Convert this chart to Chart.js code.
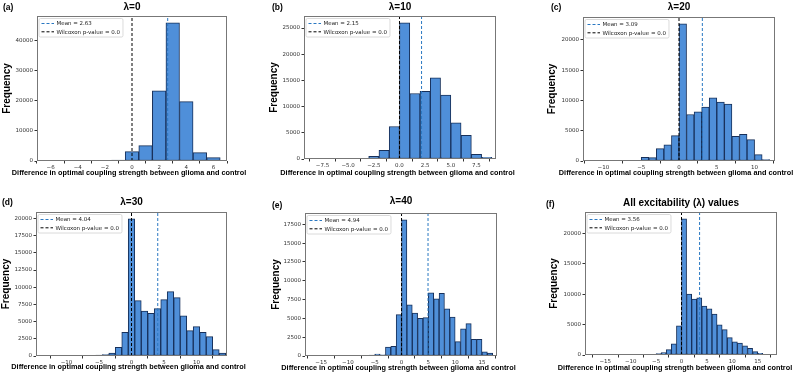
<!DOCTYPE html>
<html>
<head>
<meta charset="utf-8">
<script src="https://cdn.jsdelivr.net/npm/chart.js@4.4.1/dist/chart.umd.min.js"></script>
<style>
  body { margin: 0; background: #fff; }
  #fig { position: relative; width: 800px; height: 374px; overflow: hidden; }
  .cell { position: absolute; }
</style>
</head>
<body>
<div id="fig"></div>
<script>
// histogram counts, one bin of width 1 each, starting at binStarts[i]
const countsA = [0, 0, 0, 0, 0, 300, 3100, 5100, 23300, 45800, 19700, 2800, 1100];
const countsB = [80, 90, 500, 1650, 6200, 26000, 12500, 12900, 15500, 12200, 6900, 4500, 900, 320];
const countsC = [0, 120, 0, 60, 600, 550, 2040, 2650, 4200, 22650, 7680, 8120, 8900, 10440, 9720, 9390, 4090, 4420, 3540, 1050, 220];
const countsD = [100, 100, 150, 200, 440, 1260, 3450, 19950, 8060, 6550, 6210, 6890, 8200, 9370, 8500, 5830, 3690, 4270, 3450, 2820, 920, 440];
const countsE = [100, 130, 250, 150, 1200, 1300, 5500, 18100, 6810, 5710, 5000, 5090, 8410, 7610, 8320, 6280, 5180, 1900, 3600, 4300, 2200, 2200, 550, 400];
const countsF = [20, 40, 60, 110, 220, 390, 880, 1820, 4790, 22420, 10030, 9200, 9420, 8040, 7600, 6720, 4960, 4190, 2860, 2150, 1980, 1490, 1100, 550, 280, 100];
const binStarts = [-6.5, -5, -9, -7.5, -7, -9];
const binWidth = 1;

const means = [2.63, 2.15, 3.09, 4.04, 4.94, 3.56];
const pValues = ["0.0", "0.0", "0.0", "0.0", "0.0", "0.0"];
const letters = ["(a)", "(b)", "(c)", "(d)", "(e)", "(f)"];
const titles = ["λ=0", "λ=10", "λ=20", "λ=30", "λ=40", "All excitability (λ) values"];

const xTickValues = [
  [-6, -4, -2, 0, 2, 4, 6],
  [-7.5, -5, -2.5, 0, 2.5, 5, 7.5],
  [-10, -5, 0, 5, 10],
  [-10, -5, 0, 5, 10],
  [-15, -10, -5, 0, 5, 10, 15],
  [-15, -10, -5, 0, 5, 10, 15]
];
const xTickLabels = [
  ["−6", "−4", "−2", "0", "2", "4", "6"],
  ["−7.5", "−5.0", "−2.5", "0.0", "2.5", "5.0", "7.5"],
  ["−10", "−5", "0", "5", "10"],
  ["−10", "−5", "0", "5", "10"],
  ["−15", "−10", "−5", "0", "5", "10", "15"],
  ["−15", "−10", "−5", "0", "5", "10", "15"]
];
const yTickValues = [
  [0, 10000, 20000, 30000, 40000],
  [0, 5000, 10000, 15000, 20000, 25000],
  [0, 5000, 10000, 15000, 20000],
  [0, 2500, 5000, 7500, 10000, 12500, 15000, 17500, 20000],
  [0, 2500, 5000, 7500, 10000, 12500, 15000, 17500],
  [0, 5000, 10000, 15000, 20000]
];
const xLabel = "Difference in optimal coupling strength between glioma and control";
const yLabel = "Frequency";

// layout of each panel (cell box, plot box inside it, text spots)
const layout = [
  { left: 0,   top: 0,   w: 265, h: 184, padTop: 16, padRight: 38, yW: 37, xH: 23, xMin: -7.0,  xMax: 7.0,  letterX: 3,  letterY: 7.5,  titleY: 7.5,  yTitlePad: 1,    xLabelX: 129,   xLabelY: 173.3 },
  { left: 265, top: 0,   w: 265, h: 184, padTop: 16, padRight: 34, yW: 39, xH: 25, xMin: -9.3,  xMax: 9.4,  letterX: 7,  letterY: 7.5,  titleY: 7,    yTitlePad: 3.5,  xLabelX: 132.5, xLabelY: 173.3 },
  { left: 530, top: 0,   w: 270, h: 184, padTop: 17, padRight: 25, yW: 53, xH: 23, xMin: -12.7, xMax: 12.7, letterX: 21, letterY: 7.5,  titleY: 7,    yTitlePad: 16.5, xLabelX: 146,   xLabelY: 173.3 },
  { left: 0,   top: 184, w: 265, h: 190, padTop: 28, padRight: 38, yW: 36, xH: 18, xMin: -14.7, xMax: 14.7, letterX: 2,  letterY: 19,   titleY: 18,   yTitlePad: 0,    xLabelX: 128.5, xLabelY: 183.3 },
  { left: 265, top: 184, w: 265, h: 190, padTop: 29, padRight: 33, yW: 40, xH: 18, xMin: -18.0, xMax: 17.8, letterX: 7,  letterY: 22,   titleY: 17.5, yTitlePad: 5,    xLabelX: 133.5, xLabelY: 184.3 },
  { left: 530, top: 184, w: 270, h: 190, padTop: 28, padRight: 23, yW: 55, xH: 19, xMin: -19.0, xMax: 18.8, letterX: 16, letterY: 20.5, titleY: 19,   yTitlePad: 18,   xLabelX: 145,   xLabelY: 184.3 }
];

const allCounts = [countsA, countsB, countsC, countsD, countsE, countsF];
const tickFont = { family: "'DejaVu Sans'", size: 5.5 };
const boldFamily = "'Liberation Sans', Arial, sans-serif";

// frame, title, x label, panel letter and legend box
const panelDecor = {
  id: "panelDecor",
  afterDatasetsDraw(chart, args, opts) {
    const ctx = chart.ctx;
    const a = chart.chartArea;
    ctx.save();
    ctx.strokeStyle = "#777";
    ctx.lineWidth = 1;
    ctx.strokeRect(a.left + 0.5, a.top + 0.5, a.right - a.left - 1, a.bottom - a.top - 1);

    ctx.fillStyle = "#000";
    ctx.textBaseline = "middle";
    ctx.textAlign = "center";
    ctx.font = "bold 10px " + boldFamily;
    ctx.fillText(opts.title, (a.left + a.right) / 2, opts.titleY);
    // matplotlib lets the axis label run wider than the axes
    ctx.font = "bold 7.3px " + boldFamily;
    ctx.fillText(opts.xLabel, opts.xLabelX, opts.xLabelY);
    ctx.font = "bold 8.5px " + boldFamily;
    ctx.textAlign = "left";
    ctx.fillText(opts.letter, opts.letterX, opts.letterY);

    // legend
    const lines = chart.data.datasets.filter(d => d.type === "line");
    ctx.font = "5.5px 'DejaVu Sans'";
    const textW = Math.max(...lines.map(d => ctx.measureText(d.label).width));
    const bx = a.left + 2, by = a.top + 2.5, bw = 17.5 + textW + 3, bh = 18.5;
    ctx.fillStyle = "rgba(255,255,255,0.85)";
    ctx.strokeStyle = "#d0d0d0";
    ctx.lineWidth = 0.8;
    ctx.beginPath();
    ctx.roundRect(bx, by, bw, bh, 1.5);
    ctx.fill();
    ctx.stroke();
    lines.forEach((d, i) => {
      const y = by + 5 + i * 8.3;
      ctx.strokeStyle = d.borderColor;
      ctx.lineWidth = 1;
      ctx.setLineDash(d.borderDash);
      ctx.beginPath();
      ctx.moveTo(bx + 2.5, y);
      ctx.lineTo(bx + 15, y);
      ctx.stroke();
      ctx.setLineDash([]);
      ctx.fillStyle = "#222";
      ctx.fillText(d.label, bx + 17.5, y + 0.3);
    });
    ctx.restore();
  }
};

const fig = document.getElementById("fig");

allCounts.forEach((counts, p) => {
  const L = layout[p];
  const cell = document.createElement("div");
  cell.className = "cell";
  cell.style.left = L.left + "px";
  cell.style.top = L.top + "px";
  const canvas = document.createElement("canvas");
  canvas.width = L.w;
  canvas.height = L.h;
  cell.appendChild(canvas);
  fig.appendChild(cell);

  const bars = counts.map((c, i) => ({ x: binStarts[p] + (i + 0.5) * binWidth, y: c }));
  const yMax = Math.max(...counts) * 1.05;

  new Chart(canvas.getContext("2d"), {
    data: {
      datasets: [
        {
          type: "bar",
          label: "counts",
          data: bars,
          backgroundColor: "#4f8fd9",
          borderColor: "#17305a",
          borderWidth: 1,
          borderSkipped: false,
          barPercentage: 1,
          categoryPercentage: 1,
          order: 2
        },
        {
          type: "line",
          label: "Mean = " + means[p].toFixed(2),
          data: [{ x: means[p], y: 0 }, { x: means[p], y: yMax }],
          borderColor: "#2a78c2",
          borderWidth: 1,
          borderDash: [3, 2],
          pointRadius: 0,
          order: 1
        },
        {
          type: "line",
          label: "Wilcoxon p-value = " + pValues[p],
          data: [{ x: 0, y: 0 }, { x: 0, y: yMax }],
          borderColor: "#000",
          borderWidth: 1,
          borderDash: [3, 2],
          pointRadius: 0,
          order: 0
        }
      ]
    },
    options: {
      responsive: false,
      animation: false,
      layout: { padding: { top: L.padTop, right: L.padRight, left: 0, bottom: 0 } },
      plugins: {
        legend: { display: false },
        tooltip: { enabled: false },
        panelDecor: {
          title: titles[p], letter: letters[p], xLabel: xLabel,
          titleY: L.titleY, letterX: L.letterX, letterY: L.letterY, xLabelX: L.xLabelX, xLabelY: L.xLabelY
        }
      },
      scales: {
        x: {
          type: "linear",
          min: L.xMin,
          max: L.xMax,
          offset: false,
          grid: { display: true, drawOnChartArea: false, drawTicks: true, tickLength: 2.5, color: "#333" },
          border: { display: false },
          afterBuildTicks: s => { s.ticks = xTickValues[p].map(v => ({ value: v })); },
          afterFit: s => { s.height = L.xH; },
          ticks: {
            font: tickFont, color: "#333", padding: 1, maxRotation: 0, autoSkip: false,
            callback: (v, i) => xTickLabels[p][i]
          },
          title: { display: false }
        },
        y: {
          type: "linear",
          min: 0,
          max: yMax,
          grid: { display: true, drawOnChartArea: false, drawTicks: true, tickLength: 2.5, color: "#333" },
          border: { display: false },
          afterBuildTicks: s => { s.ticks = yTickValues[p].map(v => ({ value: v })); },
          afterFit: s => { s.width = L.yW; },
          ticks: { font: tickFont, color: "#333", padding: 1.5, autoSkip: false, callback: v => String(v) },
          title: {
            display: true, text: yLabel, color: "#000",
            font: { family: boldFamily, weight: "bold", size: 10 },
            padding: { top: L.yTitlePad, bottom: 0 }
          }
        }
      }
    },
    plugins: [panelDecor]
  });
});
</script>
</body>
</html>
